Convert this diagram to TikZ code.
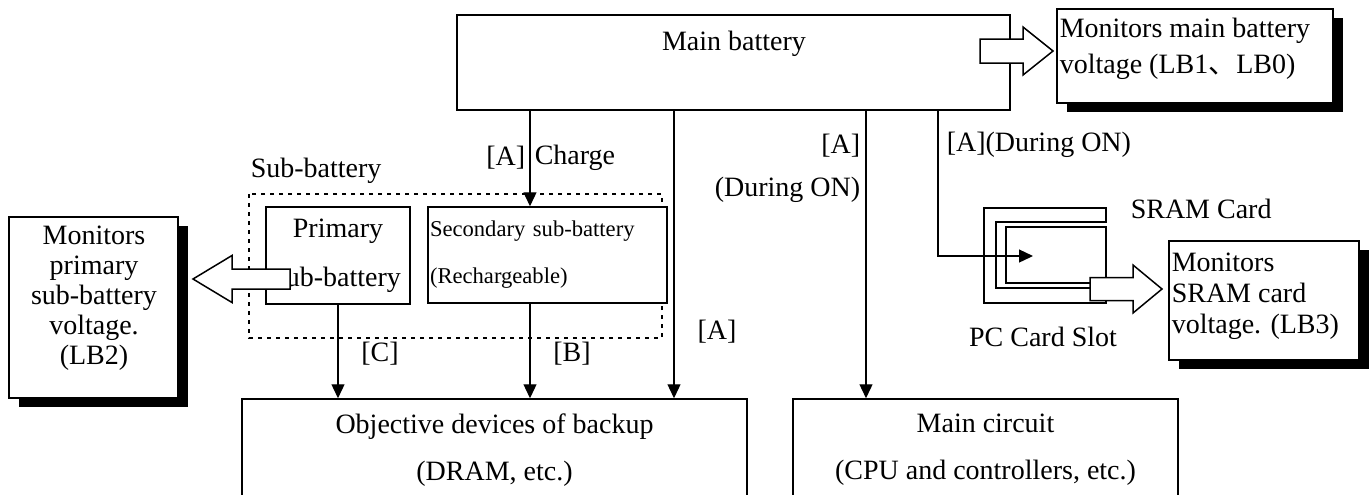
\documentclass[tikz,border=0pt]{standalone}
\usepackage{fontspec}
\setmainfont{Liberation Serif}
\newfontfamily\cjkfont{Noto Sans CJK SC}
\usetikzlibrary{arrows.meta,calc,shadows}

\begin{document}
\begin{tikzpicture}[x=0.5pt,y=-0.5pt,line width=0.75pt,
  every node/.style={font=\fontsize{14}{15}\selectfont,inner sep=0pt},
  frame/.style={draw,fill=white},
  monframe/.style={frame,drop shadow={shadow xshift=5pt,shadow yshift=-4.5pt,fill=black,opacity=1}},
  conn/.style={-{Triangle[length=7pt,width=6.5pt]},line width=0.65pt},
  blockarr/.style={draw,fill=white,line join=miter},
  groupbox/.style={line width=0.7pt,dash pattern=on 2pt off 2.5pt}]
  \useasboundingbox (0,0) rectangle (1372,494);

  \node[frame,minimum width=276.5pt,minimum height=47.5pt] (mainbat) at (733.5,62.5) {};
  \node (mainbattxt) at (734,44) {Main battery};

  \node[monframe,minimum width=138pt,minimum height=47pt] (mbmon) at (1195,56) {};
  \node[anchor=west,align=left,font=\fontsize{14}{18}\selectfont] (mbmontxt) at (1059,48.5)
    {Monitors main battery\\voltage (LB1{\cjkfont 、}LB0)};
  \coordinate (mbtip) at (1053,51);
  \draw[blockarr,shift={(mbtip)}] (0,0) -- (-30,-24) -- (-30,-12) -- (-73,-12) -- (-73,12) -- (-30,12) -- (-30,24) -- cycle;

  \draw[groupbox] (249,194) rectangle (662,338);
  \node[anchor=base west] (subbatlbl) at (250,177) {Sub-battery};
  \node[frame,minimum width=72pt,minimum height=48.5pt,align=center,
    font=\fontsize{14}{24.5}\selectfont] (prim) at (338,255.5) {Primary\\sub-battery};
  \node[frame,text width=117.5pt,inner xsep=1pt,minimum height=48pt,align=left,
    font=\fontsize{11.3}{23.5}\selectfont] (sec) at (547.5,255) {Secondary sub-battery\\(Rechargeable)};

  \node[monframe,minimum width=84.5pt,minimum height=90.5pt] (lbmon) at (93.5,307.5) {};
  \node[align=center] (lbmontxt) at (94,298) {Monitors\\primary\\sub-battery\\voltage.\\(LB2)};
  \coordinate (lbtip) at (193,279);
  \draw[blockarr,shift={(lbtip)}] (0,0) -- (39,-23.5) -- (39,-10) -- (97,-10) -- (97,10) -- (39,10) -- (39,23.5) -- cycle;

  \node[frame,minimum width=252.5pt,minimum height=51pt,align=center,
    font=\fontsize{14}{23.5}\selectfont] (obj) at (494.5,450) {Objective devices of backup\\(DRAM, etc.)};
  \node[frame,minimum width=192.5pt,minimum height=51pt,align=center,
    font=\fontsize{14}{23.5}\selectfont] (mcirc) at (985.5,450) {Main circuit\\(CPU and controllers, etc.)};

  \draw[fill=white] (984,208) -- (1106,208) -- (1106,222) -- (996,222) -- (996,288) -- (1106,288) -- (1106,303) -- (984,303) -- cycle;
  \node[draw,minimum width=50pt,minimum height=28pt] (sram) at (1056,255) {};
  \node[anchor=west] (sramlbl) at (1130,209) {SRAM Card};
  \node (slotlbl) at (1043,337) {PC Card Slot};

  \node[monframe,minimum width=95pt,minimum height=59.5pt] (srmon) at (1264,300.5) {};
  \node[anchor=west,align=left,font=\fontsize{14}{15.5}\selectfont] (srmontxt) at (1171,296.5)
    {Monitors\\SRAM card\\voltage. (LB3)};
  \coordinate (srtip) at (1162,289);
  \draw[blockarr,shift={(srtip)}] (0,0) -- (-29,-24) -- (-29,-11.5) -- (-72,-11.5) -- (-72,11.5) -- (-29,11.5) -- (-29,24) -- cycle;

  \coordinate (xch) at (530,0);
  \coordinate (xa1) at (674,0);
  \coordinate (xa2) at (866,0);
  \coordinate (xa3) at (938,0);
  \coordinate (sramtip) at (1033,256);
  \draw[conn] (xch |- mainbat.south) -- (xch |- sec.north);
  \draw[conn] (xch |- sec.south) -- (xch |- obj.north);
  \draw[conn] (prim.south) -- (prim.south |- obj.north);
  \draw[conn] (xa1 |- mainbat.south) -- (xa1 |- obj.north);
  \draw[conn] (xa2 |- mainbat.south) -- (xa2 |- mcirc.north);
  \draw[conn] (xa3 |- mainbat.south) |- (sramtip);

  \node[anchor=east] (chglbla) at (526,158) {[A]};
  \node[anchor=west] (chglblb) at (534,158) {Charge};
  \node (albl) at (717,332) {[A]};
  \node[anchor=east,align=right,font=\fontsize{14}{21.5}\selectfont] (onlbl) at (861,168) {[A]\\(During ON)};
  \node[anchor=west] (sramonlbl) at (946,145) {[A](During ON)};
  \node (clbl) at (380,354) {[C]};
  \node (blbl) at (572,354) {[B]};
\end{tikzpicture}
\end{document}
